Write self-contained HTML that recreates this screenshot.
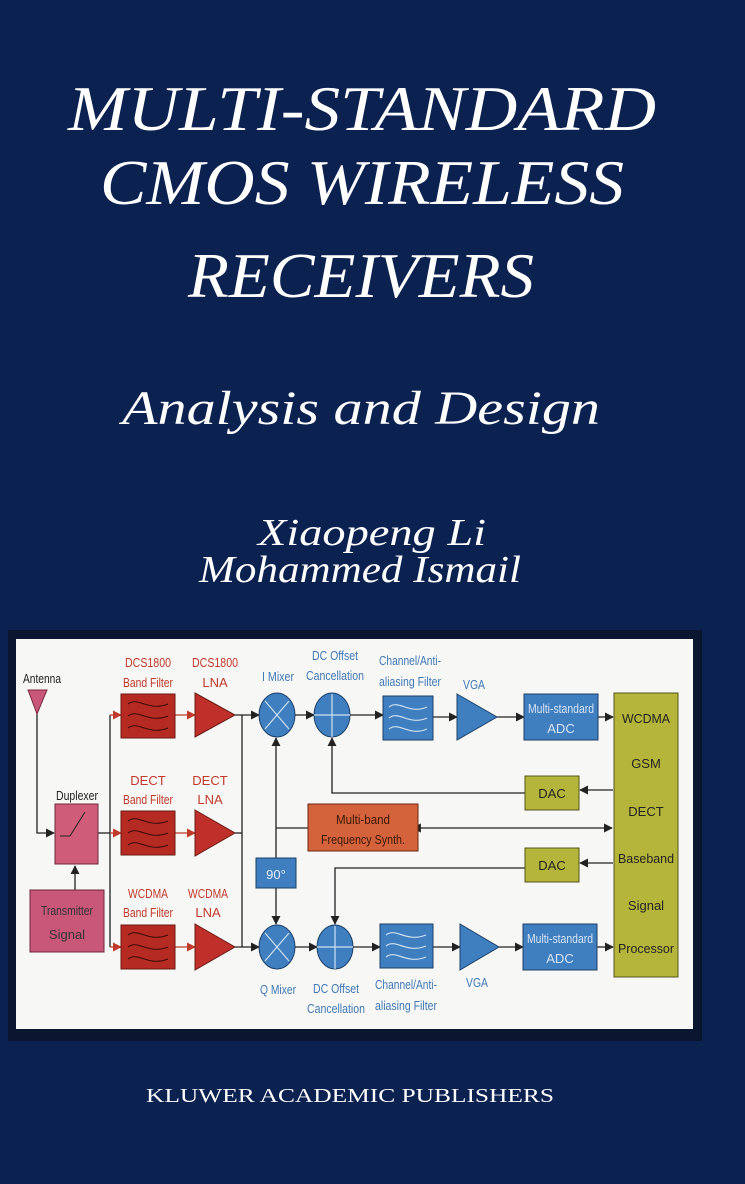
<!DOCTYPE html>
<html><head><meta charset="utf-8"><style>
html,body{margin:0;padding:0;background:#0b2150;}
svg{display:block}
.t{font-family:"Liberation Serif",serif;font-style:italic;fill:#fff}
.s{font-family:"Liberation Sans",sans-serif;font-size:13px;text-anchor:middle}
.r{fill:#c0392b}.b{fill:#3f78b5}
</style></head><body>
<svg width="745" height="1184" viewBox="0 0 745 1184" xmlns="http://www.w3.org/2000/svg">
<defs>
<marker id="a" viewBox="0 0 10 10" refX="9" refY="5" markerWidth="7" markerHeight="7" orient="auto"><path d="M0,0L10,5L0,10z" fill="#222"/></marker>
<marker id="ar" viewBox="0 0 10 10" refX="9" refY="5" markerWidth="7" markerHeight="7" orient="auto"><path d="M0,0L10,5L0,10z" fill="#c0392b"/></marker>
<marker id="as" viewBox="0 0 10 10" refX="1" refY="5" markerWidth="7" markerHeight="7" orient="auto-start-reverse"><path d="M0,0L10,5L0,10z" fill="#222"/></marker>
</defs>
<rect width="745" height="1184" fill="#0b2150"/>
<text class="t" x="362" y="130" font-size="64" text-anchor="middle" textLength="588" lengthAdjust="spacingAndGlyphs">MULTI-STANDARD</text>
<text class="t" x="362" y="204" font-size="64" text-anchor="middle" textLength="524" lengthAdjust="spacingAndGlyphs">CMOS WIRELESS</text>
<text class="t" x="361" y="297" font-size="64" text-anchor="middle" textLength="346" lengthAdjust="spacingAndGlyphs">RECEIVERS</text>
<text class="t" x="361" y="424" font-size="48" text-anchor="middle" textLength="478" lengthAdjust="spacingAndGlyphs">Analysis and Design</text>
<text class="t" x="372" y="545" font-size="38" text-anchor="middle" textLength="228" lengthAdjust="spacingAndGlyphs">Xiaopeng Li</text>
<text class="t" x="360" y="582" font-size="38" text-anchor="middle" textLength="322" lengthAdjust="spacingAndGlyphs">Mohammed Ismail</text>
<text x="350" y="1102" font-family="Liberation Serif,serif" font-size="20" fill="#fff" text-anchor="middle" textLength="408" lengthAdjust="spacingAndGlyphs">KLUWER ACADEMIC PUBLISHERS</text>

<rect x="8" y="630" width="694" height="411" fill="#0a1530"/>
<rect x="16" y="639" width="677" height="390" fill="#f7f7f5"/>

<g stroke="#222" stroke-width="1.3" fill="none">
<polyline points="37,712 37,833 54,833" marker-end="url(#a)"/>
<line x1="75" y1="890" x2="75" y2="866" marker-end="url(#a)"/>
<line x1="98" y1="833" x2="110" y2="833"/>
<line x1="110" y1="715" x2="110" y2="947"/>
<line x1="110" y1="715" x2="121" y2="715" stroke="#c0392b" marker-end="url(#ar)"/>
<line x1="110" y1="833" x2="121" y2="833" stroke="#c0392b" marker-end="url(#ar)"/>
<line x1="110" y1="947" x2="121" y2="947" stroke="#c0392b" marker-end="url(#ar)"/>
<line x1="175" y1="715" x2="195" y2="715" stroke="#c0392b" marker-end="url(#ar)"/>
<line x1="175" y1="833" x2="195" y2="833" stroke="#c0392b" marker-end="url(#ar)"/>
<line x1="175" y1="947" x2="195" y2="947" stroke="#c0392b" marker-end="url(#ar)"/>
<line x1="242" y1="715" x2="242" y2="947"/>
<line x1="235" y1="715" x2="259" y2="715" marker-end="url(#a)"/>
<line x1="235" y1="947" x2="259" y2="947" marker-end="url(#a)"/>
<line x1="235" y1="833" x2="242" y2="833"/>
<line x1="295" y1="715" x2="314" y2="715" marker-end="url(#a)"/>
<line x1="295" y1="947" x2="317" y2="947" marker-end="url(#a)"/>
<line x1="276" y1="858" x2="276" y2="738" marker-end="url(#a)"/>
<line x1="276" y1="888" x2="276" y2="924" marker-end="url(#a)"/>
<line x1="276" y1="828" x2="308" y2="828"/>
<polyline points="525,793 332,793 332,738" marker-end="url(#a)"/>
<polyline points="525,868 335,868 335,924" marker-end="url(#a)"/>
<line x1="613" y1="790" x2="580" y2="790" marker-end="url(#a)"/>
<line x1="613" y1="863" x2="580" y2="863" marker-end="url(#a)"/>
<line x1="420" y1="828" x2="612" y2="828" marker-start="url(#as)" marker-end="url(#a)"/>
<line x1="350" y1="715" x2="383" y2="715" marker-end="url(#a)"/>
<line x1="433" y1="717" x2="457" y2="717" marker-end="url(#a)"/>
<line x1="497" y1="717" x2="524" y2="717" marker-end="url(#a)"/>
<line x1="598" y1="717" x2="613" y2="717" marker-end="url(#a)"/>
<line x1="353" y1="947" x2="380" y2="947" marker-end="url(#a)"/>
<line x1="433" y1="947" x2="460" y2="947" marker-end="url(#a)"/>
<line x1="499" y1="947" x2="523" y2="947" marker-end="url(#a)"/>
<line x1="597" y1="947" x2="613" y2="947" marker-end="url(#a)"/>
</g>

<polygon points="28,690 47,690 37,714" fill="#c9577a" stroke="#7a2a40"/>
<text class="s" x="42" y="683" fill="#222" textLength="38" lengthAdjust="spacingAndGlyphs">Antenna</text>
<rect x="55" y="804" width="43" height="60" fill="#cf5c78" stroke="#6b2a3a"/>
<line x1="60" y1="836" x2="70" y2="836" stroke="#222"/><line x1="70" y1="836" x2="85" y2="812" stroke="#222"/>
<text class="s" x="77" y="800" fill="#222" textLength="42" lengthAdjust="spacingAndGlyphs">Duplexer</text>
<rect x="30" y="890" width="74" height="62" fill="#c9577a" stroke="#6b2a3a"/>
<text class="s" x="67" y="915" fill="#333" textLength="52" lengthAdjust="spacingAndGlyphs">Transmitter</text>
<text class="s" x="67" y="939" fill="#333">Signal</text>

<g fill="#b52a22" stroke="#6a1a14">
<rect x="121" y="694" width="54" height="44"/><rect x="121" y="811" width="54" height="44"/><rect x="121" y="925" width="54" height="44"/>
</g>
<g fill="none" stroke="#3a0c08" stroke-width="1">
<path d="M128,704c10,-8 20,8 40,0M128,716c10,-8 20,8 40,0M128,728c10,-8 20,8 40,0"/>
<path d="M128,821c10,-8 20,8 40,0M128,833c10,-8 20,8 40,0M128,845c10,-8 20,8 40,0"/>
<path d="M128,935c10,-8 20,8 40,0M128,947c10,-8 20,8 40,0M128,959c10,-8 20,8 40,0"/>
</g>
<g fill="#c0302a" stroke="#6a1a14">
<polygon points="195,693 235,715 195,737"/><polygon points="195,810 235,833 195,856"/><polygon points="195,924 235,947 195,970"/>
</g>
<g class="s r">
<text x="148" y="667" textLength="46" lengthAdjust="spacingAndGlyphs">DCS1800</text><text x="148" y="687" textLength="50" lengthAdjust="spacingAndGlyphs">Band Filter</text>
<text x="215" y="667" textLength="46" lengthAdjust="spacingAndGlyphs">DCS1800</text><text x="215" y="687">LNA</text>
<text x="148" y="785">DECT</text><text x="148" y="804" textLength="50" lengthAdjust="spacingAndGlyphs">Band Filter</text>
<text x="210" y="785">DECT</text><text x="210" y="804">LNA</text>
<text x="148" y="898" textLength="40" lengthAdjust="spacingAndGlyphs">WCDMA</text><text x="148" y="917" textLength="50" lengthAdjust="spacingAndGlyphs">Band Filter</text>
<text x="208" y="898" textLength="40" lengthAdjust="spacingAndGlyphs">WCDMA</text><text x="208" y="917">LNA</text>
</g>

<g fill="#3f7fc0" stroke="#1d3f66">
<ellipse cx="277" cy="715" rx="18" ry="22"/><ellipse cx="332" cy="715" rx="18" ry="22"/>
<ellipse cx="277" cy="947" rx="18" ry="22"/><ellipse cx="335" cy="947" rx="18" ry="22"/>
<rect x="256" y="858" width="40" height="30"/>
<rect x="383" y="696" width="50" height="44"/><rect x="380" y="924" width="53" height="44"/>
<polygon points="457,694 497,717 457,740"/><polygon points="460,924 499,947 460,970"/>
<rect x="524" y="694" width="74" height="46"/><rect x="523" y="924" width="74" height="46"/>
</g>
<g stroke="#cfe0f0" stroke-width="1.2" fill="none">
<path d="M265,701L289,729M289,701L265,729M265,933L289,961M289,933L265,961"/>
<path d="M332,694V737M314,715H350M335,926V969M317,947H353"/>
<path d="M389,707c10,-8 20,8 38,0M389,718c10,-8 20,8 38,0M389,729c10,-8 20,8 38,0"/>
<path d="M386,935c10,-8 20,8 40,0M386,946c10,-8 20,8 40,0M386,957c10,-8 20,8 40,0"/>
</g>
<text class="s" x="276" y="879" fill="#e8eef8" font-size="14">90°</text>
<g class="s" fill="#d8e4f2">
<text x="561" y="713" textLength="66" lengthAdjust="spacingAndGlyphs">Multi-standard</text><text x="561" y="733">ADC</text>
<text x="560" y="943" textLength="66" lengthAdjust="spacingAndGlyphs">Multi-standard</text><text x="560" y="963">ADC</text>
</g>
<g class="s b">
<text x="278" y="681" textLength="32" lengthAdjust="spacingAndGlyphs">I Mixer</text>
<text x="335" y="660" textLength="46" lengthAdjust="spacingAndGlyphs">DC Offset</text><text x="335" y="680" textLength="58" lengthAdjust="spacingAndGlyphs">Cancellation</text>
<text x="278" y="994" textLength="36" lengthAdjust="spacingAndGlyphs">Q Mixer</text>
<text x="336" y="993" textLength="46" lengthAdjust="spacingAndGlyphs">DC Offset</text><text x="336" y="1013" textLength="58" lengthAdjust="spacingAndGlyphs">Cancellation</text>
<text x="410" y="665" textLength="62" lengthAdjust="spacingAndGlyphs">Channel/Anti-</text><text x="410" y="686" textLength="62" lengthAdjust="spacingAndGlyphs">aliasing Filter</text>
<text x="474" y="689" textLength="22" lengthAdjust="spacingAndGlyphs">VGA</text>
<text x="406" y="989" textLength="62" lengthAdjust="spacingAndGlyphs">Channel/Anti-</text><text x="406" y="1010" textLength="62" lengthAdjust="spacingAndGlyphs">aliasing Filter</text>
<text x="477" y="987" textLength="22" lengthAdjust="spacingAndGlyphs">VGA</text>
</g>

<rect x="308" y="804" width="110" height="47" fill="#d4623a" stroke="#6a2a14"/>
<text class="s" x="363" y="824" fill="#3a1a0a" textLength="54" lengthAdjust="spacingAndGlyphs">Multi-band</text><text class="s" x="363" y="844" fill="#3a1a0a" textLength="84" lengthAdjust="spacingAndGlyphs">Frequency Synth.</text>
<g fill="#b5b53c" stroke="#55551a">
<rect x="525" y="776" width="54" height="34"/><rect x="525" y="848" width="54" height="34"/>
<rect x="614" y="693" width="64" height="284"/>
</g>
<text class="s" x="552" y="798" fill="#222">DAC</text><text class="s" x="552" y="870" fill="#222">DAC</text>
<g class="s" fill="#222" font-size="15">
<text x="646" y="723" textLength="48" lengthAdjust="spacingAndGlyphs">WCDMA</text><text x="646" y="768">GSM</text><text x="646" y="816">DECT</text>
<text x="646" y="863" textLength="56" lengthAdjust="spacingAndGlyphs">Baseband</text><text x="646" y="910">Signal</text><text x="646" y="953" textLength="56" lengthAdjust="spacingAndGlyphs">Processor</text>
</g>
</svg>
</body></html>
